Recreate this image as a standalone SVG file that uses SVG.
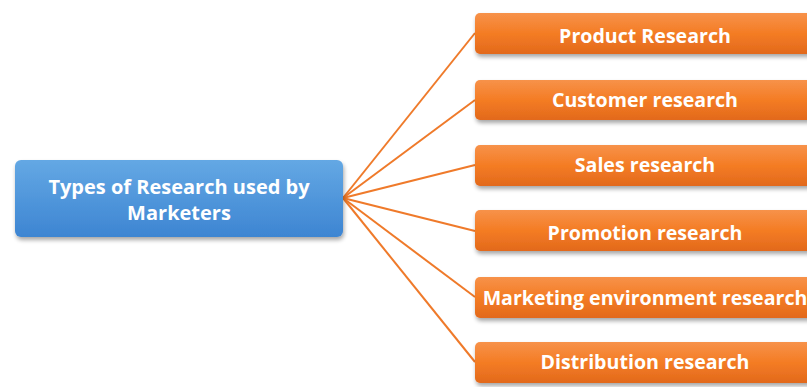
<svg xmlns="http://www.w3.org/2000/svg" width="807" height="387" viewBox="0 0 807 387">
<defs>
<linearGradient id="gb" x1="0" y1="0" x2="0" y2="1">
<stop offset="0" stop-color="#64a8e4"/>
<stop offset="1" stop-color="#3d85d2"/>
</linearGradient>
<linearGradient id="go" x1="0" y1="0" x2="0" y2="1">
<stop offset="0" stop-color="#f7924a"/>
<stop offset="0.5" stop-color="#f47c24"/>
<stop offset="1" stop-color="#e2691c"/>
</linearGradient>
<filter id="sh" x="-10%" y="-20%" width="120%" height="150%">
<feGaussianBlur in="SourceAlpha" stdDeviation="2"/>
<feOffset dx="1" dy="3" result="b"/>
<feComponentTransfer><feFuncA type="linear" slope="0.35"/></feComponentTransfer>
<feMerge><feMergeNode/><feMergeNode in="SourceGraphic"/></feMerge>
</filter>
<style>
.t{font-family:"Open Sans","Liberation Sans",sans-serif;font-weight:bold;font-size:19.6px;fill:#ffffff;text-anchor:middle;dominant-baseline:central}
.tb{font-size:20px}
.c{stroke:#ef7a2a;stroke-width:2;fill:none}
</style>
</defs>
<rect width="807" height="387" fill="#ffffff"/>
<g id="connectors">
<line class="c" x1="343" y1="198" x2="475" y2="33"/>
<line class="c" x1="343" y1="198" x2="475" y2="100"/>
<line class="c" x1="343" y1="198" x2="475" y2="165"/>
<line class="c" x1="343" y1="198" x2="475" y2="231"/>
<line class="c" x1="343" y1="198" x2="475" y2="297"/>
<line class="c" x1="343" y1="198" x2="475" y2="362"/>
</g>
<g id="root">
<rect x="15" y="160" width="328" height="77" rx="6" fill="url(#gb)" filter="url(#sh)"/>
<text class="t tb" x="179" y="186">Types of Research used by</text>
<text class="t tb" x="179" y="212">Marketers</text>
</g>
<g id="n1"><rect x="475" y="13" width="340" height="41" rx="5" fill="url(#go)" filter="url(#sh)"/><text class="t" x="645" y="35">Product Research</text></g>
<g id="n2"><rect x="475" y="80" width="340" height="40" rx="5" fill="url(#go)" filter="url(#sh)"/><text class="t" x="645" y="99">Customer research</text></g>
<g id="n3"><rect x="475" y="145" width="340" height="41" rx="5" fill="url(#go)" filter="url(#sh)"/><text class="t" x="645" y="164">Sales research</text></g>
<g id="n4"><rect x="475" y="210" width="340" height="41" rx="5" fill="url(#go)" filter="url(#sh)"/><text class="t" x="645" y="232">Promotion research</text></g>
<g id="n5"><rect x="475" y="277" width="340" height="41" rx="5" fill="url(#go)" filter="url(#sh)"/><text class="t" x="645" y="297">Marketing environment research</text></g>
<g id="n6"><rect x="475" y="342" width="340" height="41" rx="5" fill="url(#go)" filter="url(#sh)"/><text class="t" x="645" y="361">Distribution research</text></g>
</svg>
